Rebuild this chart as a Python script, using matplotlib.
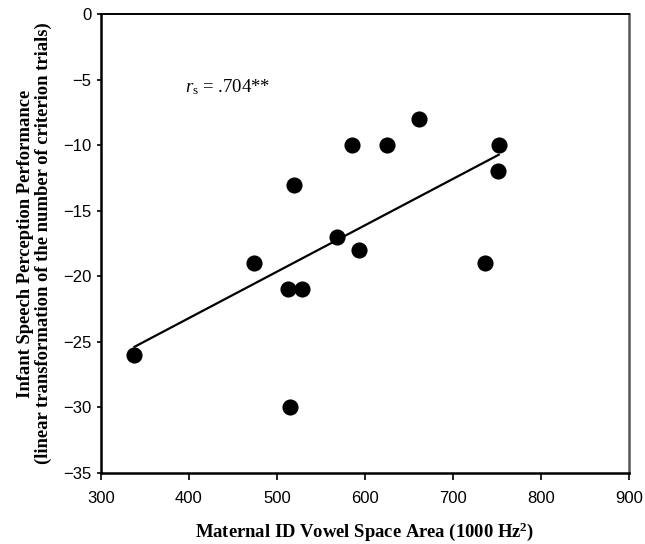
import matplotlib

matplotlib.use("Agg")
import matplotlib.pyplot as plt
import numpy as np

# maternal ID vowel space area (1000 Hz^2) vs. infant performance
vowel_area = [338, 474, 513, 515, 519, 529, 568, 585, 593, 625, 662, 737, 751, 752]
infant_perf = [-26, -19, -21, -30, -13, -21, -17, -10, -18, -10, -8, -19, -12, -10]

x_ticks = [300, 400, 500, 600, 700, 800, 900]
y_ticks = [0, -5, -10, -15, -20, -25, -30, -35]

plt.rcParams["mathtext.fontset"] = "custom"
plt.rcParams["mathtext.rm"] = "Liberation Serif"
plt.rcParams["mathtext.it"] = "Liberation Serif:italic"
plt.rcParams["mathtext.bf"] = "Liberation Serif:bold"

x = np.asarray(vowel_area, dtype=float)
y = np.asarray(infant_perf, dtype=float)
slope, intercept = np.polyfit(x, y, 1)
x_fit = np.array([x.min(), x.max()])

fig = plt.figure(figsize=(6.45, 5.44), dpi=100)
ax = fig.add_axes([0.1566, 0.1305, 0.8184, 0.8437])

ax.plot(x_fit, slope * x_fit + intercept, color="black", linewidth=1.6, zorder=2)
ax.scatter(x, y, s=135, color="black", zorder=3, linewidths=0)

ax.set_xlim(300, 900)
ax.set_ylim(-35, 0)
ax.set_xticks(x_ticks)
ax.set_yticks(y_ticks)
ax.set_xticklabels([str(t) for t in x_ticks], family="Liberation Sans", fontsize=12)
ax.set_yticklabels([f"\u2212{abs(t)}" if t else "0" for t in y_ticks],
                   family="Liberation Sans", fontsize=12)
ax.tick_params(direction="out", width=1.2)
ax.tick_params(axis="x", length=5, pad=8)
ax.tick_params(axis="y", length=3, pad=4)

for side in ("left", "bottom"):
    ax.spines[side].set_linewidth(1.8)
ax.spines["top"].set_linewidth(1.4)
ax.spines["right"].set_linewidth(1.8)
ax.spines["right"].set_color("#555555")

ax.set_xlabel("Maternal ID Vowel Space Area (1000 Hz$^\\mathregular{2}$)",
              family="Liberation Serif", fontweight="bold", fontsize=13.4, va="top")
ax.xaxis.set_label_coords(0.5, -0.103)
ax.set_ylabel("Infant Speech Perception Performance\n"
              "(linear transformation of the number of criterion trials)",
              family="Liberation Serif", fontweight="bold", fontsize=13.4,
              linespacing=1.1)
ax.yaxis.set_label_coords(-0.092, 0.5)

ax.text(395, -5.6, "$r_\\mathregular{s}$ = .704**", family="Liberation Serif",
        fontsize=13.5, va="center", ha="left")

fig.savefig("out.png", dpi=100)
plt.close(fig)
